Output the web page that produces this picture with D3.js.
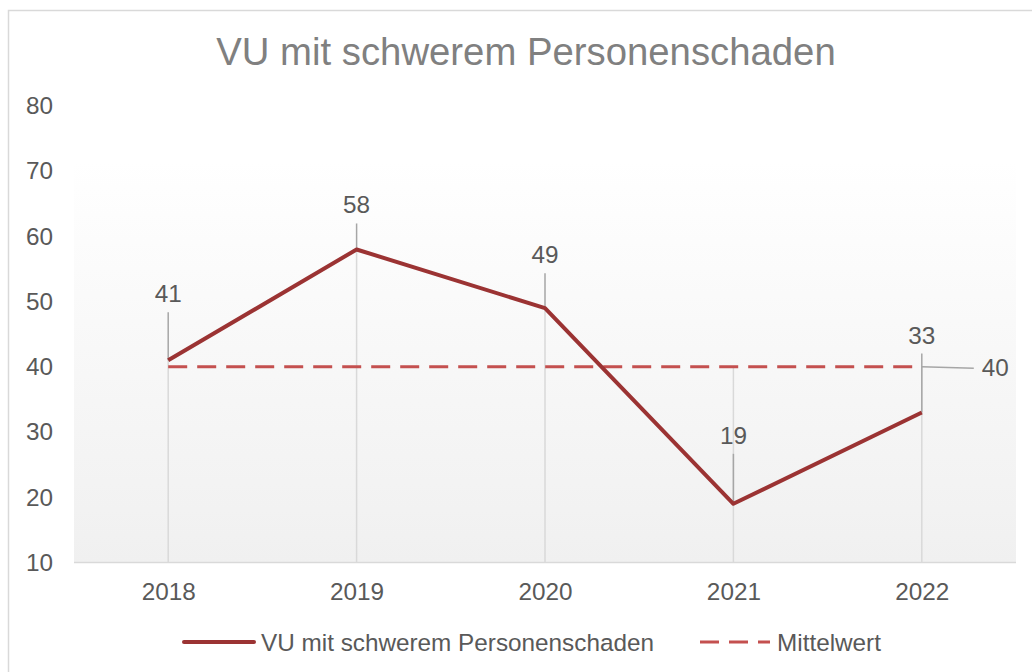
<!DOCTYPE html>
<html>
<head>
<meta charset="utf-8">
<script src="https://cdn.jsdelivr.net/npm/d3@7"></script>
<style>
  html, body { margin: 0; padding: 0; background: #fff; }
  svg { display: block; font-family: "Liberation Sans", Arial, sans-serif; }
</style>
</head>
<body>
<div id="chart"></div>
<script>
// data
const years = ['2018', '2019', '2020', '2021', '2022']
const accidents = [41, 58, 49, 19, 33]
const meanValues = [40, 40, 40, 40, 40]
const yTicks = [10, 20, 30, 40, 50, 60, 70, 80]
const titleText = 'VU mit schwerem Personenschaden'
const seriesName = 'VU mit schwerem Personenschaden'
const meanName = 'Mittelwert'

// how far each data label sits above its point (px), as placed in the original
const labelLift = [58, 36, 45, 60, 69]

const width = 1032
const height = 672
const margin = {top: 106, right: 16, bottom: 110, left: 74}
const fontSize = '24.3px'

const svg = d3.select('#chart').append('svg')
  .attr('width', width)
  .attr('height', height)

// chart border (runs off the right/bottom edge like the screenshot)
svg.append('rect')
  .attr('x', 8.5).attr('y', 10.5)
  .attr('width', 1060).attr('height', 700)
  .attr('fill', '#fff')
  .attr('stroke', '#d9d9d9')
  .attr('stroke-width', 1.5)

const x = d3.scalePoint()
  .domain(years)
  .range([margin.left, width - margin.right])
  .padding(0.5)

const y = d3.scaleLinear()
  .domain([10, 80])
  .range([height - margin.bottom + 0.5, margin.top])

// plot area gradient
const defs = svg.append('defs')
const grad = defs.append('linearGradient')
  .attr('id', 'plotFill')
  .attr('x1', 0).attr('y1', 0).attr('x2', 0).attr('y2', 1)
grad.append('stop').attr('offset', '0%').attr('stop-color', '#ffffff')
grad.append('stop').attr('offset', '12%').attr('stop-color', '#ffffff')
grad.append('stop').attr('offset', '100%').attr('stop-color', '#f0f0f0')

svg.append('rect')
  .attr('x', margin.left)
  .attr('y', y(80))
  .attr('width', width - margin.right - margin.left)
  .attr('height', y(10) - y(80))
  .attr('fill', 'url(#plotFill)')

// title
svg.append('text')
  .attr('x', 526)
  .attr('y', 65)
  .attr('text-anchor', 'middle')
  .attr('fill', '#808080')
  .style('font-size', '38.3px')
  .text(titleText)

// y axis labels (no axis line, no ticks)
const yAxis = d3.axisLeft(y)
  .tickValues(yTicks)
  .tickSize(0)
  .tickPadding(0)
const gy = svg.append('g')
  .attr('transform', `translate(53,0)`)
  .call(yAxis)
gy.select('.domain').remove()
gy.selectAll('text')
  .attr('fill', '#595959')
  .style('font-size', fontSize)
  .style('font-family', '"Liberation Sans", Arial, sans-serif')

// drop lines from the higher of the two series down to the axis
svg.append('g')
  .selectAll('line')
  .data(years)
  .join('line')
    .attr('x1', d => x(d))
    .attr('x2', d => x(d))
    .attr('y1', (d, i) => y(Math.max(accidents[i], meanValues[i])))
    .attr('y2', y(10))
    .attr('stroke', '#d9d9d9')
    .attr('stroke-width', 1.5)

// x axis
const xAxis = d3.axisBottom(x).tickSize(0).tickPadding(20)
const gx = svg.append('g')
  .attr('transform', `translate(0,${y(10)})`)
  .call(xAxis)
gx.select('.domain')
  .attr('d', `M${margin.left},0H${width - margin.right}`)
  .attr('stroke', '#d9d9d9')
  .attr('stroke-width', 1.5)
gx.selectAll('text')
  .attr('fill', '#595959')
  .style('font-size', fontSize)
  .style('font-family', '"Liberation Sans", Arial, sans-serif')

// mean line
const meanLine = d3.line()
  .x((d, i) => x(years[i]))
  .y(d => y(d))
svg.append('path')
  .datum(meanValues)
  .attr('d', meanLine)
  .attr('fill', 'none')
  .attr('stroke', '#c4504f')
  .attr('stroke-width', 3)
  .attr('stroke-dasharray', '19,10')

// leader lines for labels
svg.append('g')
  .selectAll('line')
  .data(accidents)
  .join('line')
    .attr('x1', (d, i) => x(years[i]))
    .attr('x2', (d, i) => x(years[i]))
    .attr('y1', (d, i) => y(d) - labelLift[i] + 10)
    .attr('y2', d => y(d))
    .attr('stroke', '#a6a6a6')
    .attr('stroke-width', 1.5)

// main series
const seriesLine = d3.line()
  .x((d, i) => x(years[i]))
  .y(d => y(d))
svg.append('path')
  .datum(accidents)
  .attr('d', seriesLine)
  .attr('fill', 'none')
  .attr('stroke', '#9b3333')
  .attr('stroke-width', 4)
  .attr('stroke-linejoin', 'round')

// data labels
svg.append('g')
  .selectAll('text')
  .data(accidents)
  .join('text')
    .attr('x', (d, i) => x(years[i]))
    .attr('y', (d, i) => y(d) - labelLift[i])
    .attr('text-anchor', 'middle')
    .attr('fill', '#595959')
    .style('font-size', fontSize)
    .text(d => d)

// label for the mean at the last point
const lastIdx = years.length - 1
const meanY = y(meanValues[lastIdx])
svg.append('line')
  .attr('x1', x(years[lastIdx]))
  .attr('x2', x(years[lastIdx]) + 52)
  .attr('y1', meanY)
  .attr('y2', meanY + 1.5)
  .attr('stroke', '#a6a6a6')
  .attr('stroke-width', 1.5)
svg.append('text')
  .attr('x', x(years[lastIdx]) + 60)
  .attr('y', meanY + 9)
  .attr('fill', '#595959')
  .style('font-size', fontSize)
  .text(meanValues[lastIdx])

// legend
const legend = svg.append('g').attr('transform', 'translate(0,642)')
legend.append('line')
  .attr('x1', 184).attr('x2', 254)
  .attr('y1', 0).attr('y2', 0)
  .attr('stroke', '#9b3333')
  .attr('stroke-width', 4)
  .attr('stroke-linecap', 'round')
legend.append('text')
  .attr('x', 261).attr('y', 8.5)
  .attr('fill', '#595959')
  .style('font-size', fontSize)
  .text(seriesName)
legend.append('line')
  .attr('x1', 700).attr('x2', 770)
  .attr('y1', 0).attr('y2', 0)
  .attr('stroke', '#c4504f')
  .attr('stroke-width', 3)
  .attr('stroke-dasharray', '19,10')
legend.append('text')
  .attr('x', 777).attr('y', 8.5)
  .attr('fill', '#595959')
  .style('font-size', fontSize)
  .text(meanName)
</script>
</body>
</html>
